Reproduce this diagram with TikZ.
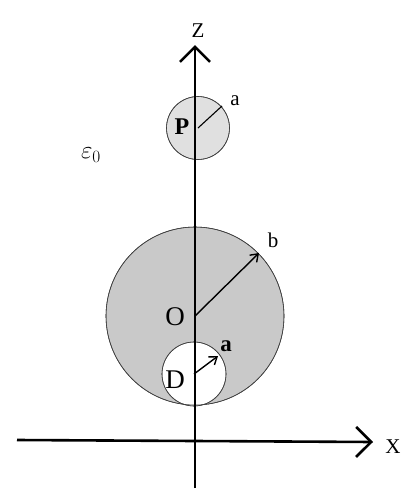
\documentclass[tikz,border=0pt]{standalone}
\usepackage{fontspec}
\setmainfont{Liberation Serif}
\usetikzlibrary{arrows.meta}

\begin{document}
\begin{tikzpicture}[
    x=1pt, y=-1pt,
    axis/.style={line width=2.6pt, -{Straight Barb[length=15pt, width=30pt, line width=2.6pt]}},
    ball/.style={draw=black!75, line width=0.6pt},
    radius/.style={line width=1.4pt, -{Straight Barb[length=7pt, width=10pt]}},
    lbl/.style={font=\fontsize{27}{30}\selectfont, inner sep=0pt},
    small/.style={font=\fontsize{21}{24}\selectfont, inner sep=0pt}]
  \useasboundingbox (0,0) rectangle (404,493);
  % points
  \coordinate (O) at (195,316);
  \coordinate (D) at (194,374);
  \coordinate (P) at (198,128);
  \coordinate (btip) at (259,253);
  \coordinate (atip) at (218,356);
  \coordinate (ptip) at (222,106);
  \coordinate (xl) at (17,440);
  \coordinate (xr) at (373,442);
  \coordinate (zb) at (195,488);
  \coordinate (zt) at (195,45);
  % spheres
  \fill[ball, fill=black!21] (O) circle (89);
  \fill[ball, fill=white] (D) circle (32);
  \draw[ball] (O) circle (89);
  \draw[ball] (D) circle (32);
  \fill[ball, fill=black!12] (P) circle (31.5);
  \draw[ball] (P) circle (31.5);
  % axes
  \draw[axis] (xl) -- (xr);
  \draw[axis] (zb) -- (zt);
  % radii
  \draw[radius] (O) -- (btip);
  \draw[radius] (D) -- (atip);
  \draw[line width=1.1pt] (P) -- (ptip);
  % labels
  \node[small] (zlab) at (198,31) {Z};
  \node[small] (xlab) at (393,447) {X};
  \node[lbl, font=\fontsize{24}{28}\selectfont\bfseries] (plab) at (182,127) {P};
  \node[lbl] (olab) at (175,317) {O};
  \node[lbl] (dlab) at (175,380) {D};
  \node[small] (alab1) at (235,101) {a};
  \node[small] (blab) at (273,240) {b};
  \node[small, font=\fontsize{23}{26}\selectfont\bfseries] (alab2) at (226,346) {a};
  \node[small, font=\fontsize{24}{28}\selectfont] (eps) at (91,155) {$\varepsilon_0$};
\end{tikzpicture}
\end{document}
